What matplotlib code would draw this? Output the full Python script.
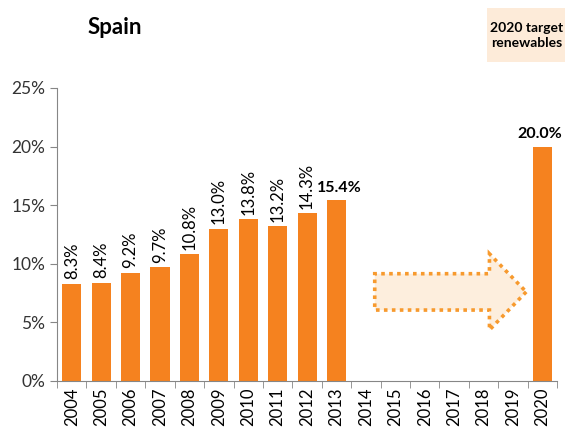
import matplotlib
matplotlib.use("Agg")
import matplotlib.pyplot as plt
from matplotlib.patches import FancyArrow, Rectangle
from matplotlib.ticker import PercentFormatter

plt.rcParams['font.family'] = ['Lato', 'DejaVu Sans']

years = [str(y) for y in range(2004, 2021)]
shares = [8.3, 8.4, 9.2, 9.7, 10.8, 13.0, 13.8, 13.2, 14.3, 15.4,
          None, None, None, None, None, None, 20.0]
# horizontal bold labels, with a small sideways nudge
bold_labels = {'2013': 0.1, '2020': -0.1}

bar_color = '#F5821F'
axis_color = '#868686'

fig = plt.figure(figsize=(5.65, 4.29), dpi=100)
ax = fig.add_axes([0.101, 0.112, 0.885, 0.683])

xs = list(range(len(years)))
heights = [v if v is not None else 0 for v in shares]
ax.bar(xs, heights, width=0.65, color=bar_color)

for x, year, v in zip(xs, years, shares):
    if v is None:
        continue
    if year in bold_labels:
        ax.text(x + bold_labels[year], v + 0.5, f'{v:.1f}%', ha='center',
                va='bottom', fontsize=11.5, fontweight='bold', color='black')
    else:
        ax.text(x, v + 0.4, f'{v:.1f}%', ha='center', va='bottom',
                rotation=90, fontsize=12, color='black')

# dotted arrow towards the 2020 target
arrow = FancyArrow(10.3, 7.6, 5.15, 0, width=3.1, head_width=6.5,
                   head_length=1.25, length_includes_head=True,
                   facecolor='#FDEEDD', edgecolor='#F79A2E',
                   linestyle=(0, (1, 1.2)), linewidth=2.6)
ax.add_patch(arrow)

ax.set_xlim(-0.5, len(years) - 0.5)
ax.set_ylim(0, 25)
ax.set_yticks([0, 5, 10, 15, 20, 25])
ax.yaxis.set_major_formatter(PercentFormatter(decimals=0))
ax.set_xticks(xs)
ax.set_xticklabels(years, rotation=90, fontsize=12)
ax.set_xticks([x - 0.5 for x in xs] + [len(years) - 0.5], minor=True)
ax.tick_params(axis='x', which='major', length=0, pad=5)
ax.tick_params(axis='x', which='minor', length=5, color=axis_color)
ax.tick_params(axis='y', length=5, color=axis_color, labelsize=12.5,
               labelcolor='#333333')

for side in ['top', 'right']:
    ax.spines[side].set_visible(False)
for side in ['left', 'bottom']:
    ax.spines[side].set_color(axis_color)

fig.text(0.155, 0.935, 'Spain', fontsize=16, fontweight='bold',
         ha='left', va='center')
fig.patches.append(Rectangle((0.862, 0.855), 0.138, 0.126,
                             transform=fig.transFigure,
                             facecolor='#FDEBD9', edgecolor='none'))
fig.text(0.932, 0.918, '2020 target\nrenewables', fontsize=10,
         fontweight='bold', ha='center', va='center', linespacing=1.3)

fig.savefig('out.png', dpi=100)
